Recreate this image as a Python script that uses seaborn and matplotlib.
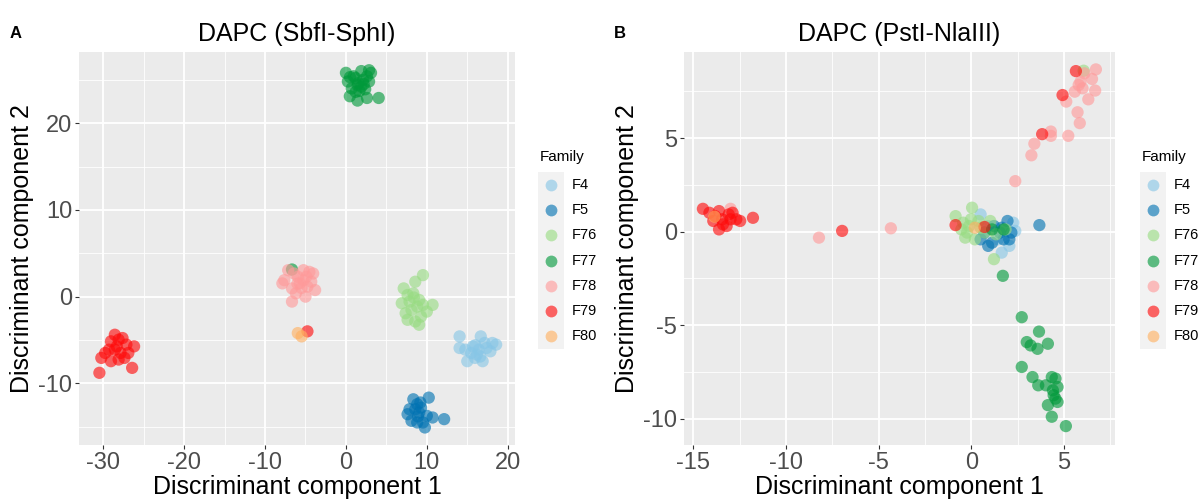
import matplotlib.pyplot as plt
import pandas as pd
import seaborn as sns
from matplotlib.lines import Line2D
from matplotlib.patches import Rectangle

FAMILIES = ["F4", "F5", "F76", "F77", "F78", "F79", "F80"]
PALETTE = {
    "F4": "#87C6E6",
    "F5": "#0072B2",
    "F76": "#98DC82",
    "F77": "#00993A",
    "F78": "#FF9A9A",
    "F79": "#FF0A0A",
    "F80": "#FFB060",
}

# ---- Panel A: SbfI-SphI ----
a_f4_x = [14.05, 14.05, 15.0, 15.71, 16.67, 17.14, 18.1, 18.57, 17.86, 16.9, 16.19, 15.48, 16.43, 17.38, 15.95, 14.76, 16.0, 16.6]
a_f4_y = [-4.58, -5.92, -7.44, -5.73, -4.58, -5.34, -5.34, -5.53, -6.3, -7.44, -6.68, -6.49, -6.11, -5.92, -7.06, -6.11, -5.6, -6.9]
a_f5_x = [8.33, 8.81, 10.24, 7.62, 8.1, 9.05, 9.52, 9.76, 10.71, 12.14, 8.57, 9.29, 10.0, 8.81, 7.86, 9.2, 8.9]
a_f5_y = [-11.83, -12.4, -11.64, -13.55, -14.31, -13.36, -14.5, -15.08, -13.93, -14.12, -12.98, -12.79, -13.74, -14.5, -12.98, -12.2, -13.8]
a_f76_x = [7.14, 7.62, 6.9, 7.38, 8.33, 8.57, 9.52, 9.05, 9.52, 10.0, 10.71, 8.57, 9.05, 8.1, 7.62, 9.29, 8.81, 7.86, 8.4]
a_f76_y = [0.95, 0.19, -0.76, -1.91, 0.38, 1.72, 2.48, -0.38, -0.95, -1.72, -0.95, -2.86, -3.24, -1.53, -2.67, -2.29, -1.15, -0.57, -0.1]
a_f77_x = [0.0, 0.24, 0.95, 1.9, 2.86, 3.1, 2.14, 1.43, 0.71, 1.67, 2.38, 2.6, 1.43, 0.48, 4.05, 2.86, 1.19, 1.9, 1.5, 2.2, 0.5, 2.6, 1.2, -6.67]
a_f77_y = [25.8, 24.8, 25.4, 26.0, 26.1, 25.8, 25.0, 24.4, 24.0, 23.7, 23.9, 22.9, 22.6, 23.1, 22.9, 24.8, 25.2, 24.2, 24.6, 24.5, 25.3, 25.4, 23.6, 3.13]
a_f78_x = [-7.86, -7.14, -6.43, -5.24, -4.52, -4.05, -5.71, -6.67, -4.76, -3.81, -6.19, -5.0, -6.67, -7.62, -5.24, -4.29, -5.95, -5.5, -6.0, -4.9]
a_f78_y = [1.53, 3.05, 2.67, 3.05, 2.86, 2.67, 1.53, 0.95, 1.15, 0.76, 0.38, 0.0, -0.57, 1.9, 1.9, 1.72, 2.29, 1.0, 1.5, 2.3]
a_f79_x = [-30.48, -30.24, -29.76, -29.05, -28.57, -28.1, -27.62, -27.14, -26.19, -26.43, -28.57, -27.86, -27.38, -29.05, -28.1, -26.9, -29.29, -28.33, -4.76]
a_f79_y = [-8.78, -7.06, -6.49, -5.15, -4.39, -4.96, -4.77, -5.53, -5.73, -8.21, -6.11, -6.49, -7.06, -7.44, -7.25, -6.49, -6.11, -5.73, -4.0]
a_f80_x = [-5.95, -5.48]
a_f80_y = [-4.2, -4.58]

# ---- Panel B: PstI-NlaIII ----
b_f4_x = [0.5, 1.64, 2.26, 2.37, 2.05, 1.43, 0.9]
b_f4_y = [0.92, -1.12, 0.48, 0.04, -0.76, -0.41, 0.3]
b_f5_x = [0.5, 0.91, 1.22, 1.54, 1.95, 2.05, 1.74, 2.16, 0.71, 1.64, 1.12, 3.67]
b_f5_y = [-0.41, -0.76, 0.3, -0.05, 0.57, -0.41, -0.41, -0.05, -0.05, 0.21, -0.59, 0.35]
b_f76_x = [-0.85, -0.54, -0.23, 0.04, -0.02, 0.39, -0.33, 0.19, 0.71, 1.02, 1.33, 1.85, 1.22, -0.12, 0.5, -0.44, 6.06]
b_f76_y = [0.83, 0.12, -0.05, 1.28, 0.66, 0.57, -0.32, -0.41, -0.05, 0.57, -0.14, 0.12, -1.47, 0.3, 0.21, 0.48, 8.6]
b_f77_x = [1.7, 1.12, 1.74, 2.72, 3.65, 2.99, 3.2, 3.57, 4.13, 2.72, 3.3, 3.61, 4.02, 4.34, 4.54, 4.65, 4.44, 4.65, 4.13, 4.34, 5.1, 4.4, 4.54]
b_f77_y = [-2.36, 0.12, 0.12, -4.57, -5.34, -5.9, -6.08, -6.26, -5.99, -7.23, -7.77, -8.21, -8.21, -7.77, -7.85, -8.3, -8.74, -9.1, -9.27, -9.89, -10.39, -8.48, -8.92]
b_f78_x = [-12.99, -8.22, -4.34, 2.37, 3.24, 3.4, 4.29, 4.29, 5.23, 5.12, 5.73, 5.85, 5.58, 5.89, 6.1, 6.51, 6.72, 6.68, 6.31, 6.0, 5.79]
b_f78_y = [1.22, -0.32, 0.18, 2.7, 4.08, 4.7, 5.35, 5.12, 5.12, 6.95, 6.38, 5.8, 7.48, 8.01, 8.46, 8.16, 8.67, 7.54, 7.07, 7.66, 7.84]
b_f79_x = [-14.48, -14.13, -13.82, -13.61, -13.44, -13.2, -12.88, -12.99, -12.68, -12.47, -11.78, -13.61, -13.4, -13.92, -13.09, -6.97, -0.85, 0.71, 3.82, 4.92, 5.64]
b_f79_y = [1.22, 1.01, 0.83, 1.1, 0.66, 0.3, 1.01, 0.66, 0.66, 0.57, 0.74, 0.12, 0.39, 0.57, 0.92, 0.04, 0.35, 0.25, 5.21, 7.3, 8.58]
b_f80_x = [-13.86, 0.19]
b_f80_y = [0.8, 0.21]


def build(parts):
    rows = []
    for fam, xs, ys in parts:
        rows += [{"x": x, "y": y, "Family": fam} for x, y in zip(xs, ys)]
    df = pd.DataFrame(rows)
    df["Family"] = pd.Categorical(df["Family"], categories=FAMILIES)
    return df


df_a = build([
    ("F4", a_f4_x, a_f4_y), ("F5", a_f5_x, a_f5_y), ("F76", a_f76_x, a_f76_y),
    ("F77", a_f77_x, a_f77_y), ("F78", a_f78_x, a_f78_y), ("F79", a_f79_x, a_f79_y),
    ("F80", a_f80_x, a_f80_y),
])
df_b = build([
    ("F4", b_f4_x, b_f4_y), ("F5", b_f5_x, b_f5_y), ("F76", b_f76_x, b_f76_y),
    ("F77", b_f77_x, b_f77_y), ("F78", b_f78_x, b_f78_y), ("F79", b_f79_x, b_f79_y),
    ("F80", b_f80_x, b_f80_y),
])

plt.rcParams["font.family"] = ["Liberation Sans", "DejaVu Sans"]
plt.rcParams["axes.unicode_minus"] = False

W, H = 1204, 500
fig = plt.figure(figsize=(W / 100, H / 100), dpi=100)


def ggplot_axes(px_left, px_right, px_top, px_bottom):
    ax = fig.add_axes([px_left / W, 1 - px_bottom / H,
                       (px_right - px_left) / W, (px_bottom - px_top) / H])
    ax.set_facecolor("#EBEBEB")
    for s in ax.spines.values():
        s.set_visible(False)
    ax.grid(True, which="major", color="white", linewidth=1.3)
    ax.grid(True, which="minor", color="white", linewidth=0.6)
    ax.set_axisbelow(True)
    ax.tick_params(which="major", length=3, color="#333333", labelsize=17,
                   labelcolor="#4D4D4D", pad=2)
    ax.tick_params(which="minor", length=0)
    return ax


def draw_panel(ax, df, title, letter, xticks, yticks, xlim, ylim, xminor, yminor,
               legend_x):
    sns.scatterplot(data=df, x="x", y="y", hue="Family", palette=PALETTE,
                    hue_order=FAMILIES, s=78, alpha=0.62, linewidth=0,
                    ax=ax, legend=False)
    ax.set_xlim(xlim)
    ax.set_ylim(ylim)
    ax.set_xticks(xticks)
    ax.set_yticks(yticks)
    ax.set_xticks(xminor, minor=True)
    ax.set_yticks(yminor, minor=True)
    ax.set_xlabel("Discriminant component 1", fontsize=18, labelpad=1)
    ax.set_ylabel("Discriminant component 2", fontsize=18, labelpad=3)
    ax.set_title(title, fontsize=18, pad=8)
    fig.text(ax.get_position().x0 - 0.058, 0.925, letter, fontsize=12,
             fontweight="bold")

    # legend: gray key background + labels
    top = 172
    step = 25.3
    fig.patches.append(Rectangle((legend_x / W, 1 - (top + 7 * step) / H),
                                 26 / W, 7 * step / H, transform=fig.transFigure,
                                 facecolor="#F2F2F2", edgecolor="none"))
    fig.text((legend_x + 2) / W, 1 - 157 / H, "Family", fontsize=11,
             va="center", ha="left")
    for i, fam in enumerate(FAMILIES):
        yc = 1 - (top + step * (i + 0.5)) / H
        fig.add_artist(Line2D([(legend_x + 13) / W], [yc], marker="o",
                              markersize=8.5, color=PALETTE[fam], alpha=0.62,
                              markeredgewidth=0, transform=fig.transFigure))
        fig.text((legend_x + 34) / W, yc, fam, fontsize=10.5, va="center",
                 ha="left")


ax_a = ggplot_axes(79, 515, 52, 445)
draw_panel(ax_a, df_a, "DAPC (SbfI-SphI)", "A",
           [-30, -20, -10, 0, 10, 20], [-10, 0, 10, 20],
           (-33.0, 20.9), (-17.1, 28.2),
           [-25, -15, -5, 5, 15], [-15, -5, 5, 15, 25], 538)

ax_b = ggplot_axes(684, 1115, 52, 445)
draw_panel(ax_b, df_b, "DAPC (PstI-NlaIII)", "B",
           [-15, -10, -5, 0, 5], [-10, -5, 0, 5],
           (-15.5, 7.75), (-11.4, 9.6),
           [-12.5, -7.5, -2.5, 2.5, 7.5], [-7.5, -2.5, 2.5, 7.5], 1140)

fig.savefig("out.png", dpi=100)
plt.close()
